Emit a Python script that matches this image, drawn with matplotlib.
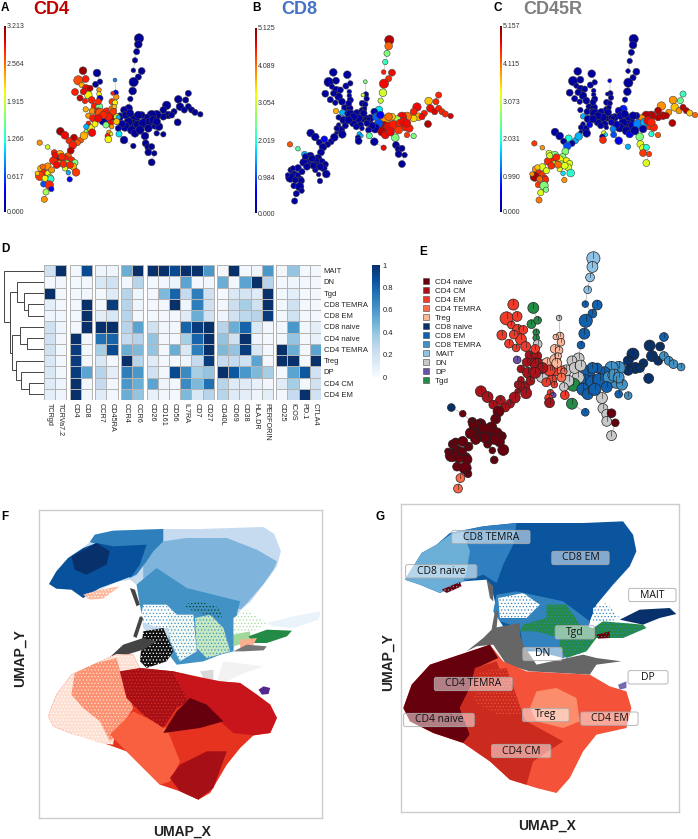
import numpy as np
import matplotlib
matplotlib.use('Agg')
import matplotlib.pyplot as plt
from matplotlib.patches import Circle, FancyBboxPatch
from matplotlib.lines import Line2D
from matplotlib.cm import ScalarMappable
from matplotlib.colors import Normalize

plt.rcParams['font.family'] = ['Liberation Sans', 'DejaVu Sans']
plt.rcParams['hatch.linewidth'] = 0.5

W, H = 698, 839

cell_types = ['CD4 naive', 'CD4 CM', 'CD4 EM', 'CD4 TEMRA', 'Treg', 'CD8 naive', 'CD8 EM',
              'CD8 TEMRA', 'MAIT', 'DN', 'DP', 'Tgd']
type_colors = ['#67000d', '#a8121a', '#ee3b2b', '#fb6a4a', '#fcb79c', '#08306b', '#1060ae',
               '#4292c6', '#8fc3e6', '#c8c8c8', '#6a51a3', '#238b45']

# tree nodes, one line per branch: top, right, centre, upper left, lower left, then the packed ones
node_x = [417, 415, 410, 405, 400, 425, 415, 401, 398, 391, 386,
          565, 557, 535, 500, 522, 540, 553, 565, 575, 585, 601, 533, 505, 490, 470, 455, 440, 465, 477, 490, 470, 435, 437, 445, 455, 463, 445, 455,
          405, 400, 415, 430, 385, 375, 395, 405, 372, 400, 372, 360, 365, 355, 378, 425,
          249, 235, 257, 291, 287, 300, 245, 258, 270, 225, 265, 297, 297, 300, 240, 255, 283, 257, 298, 277, 295, 265, 280, 301, 320, 310, 330, 340, 350, 355, 272, 285, 265, 259, 276, 258, 330, 318, 335, 327, 333, 323, 325, 357, 345, 347, 349, 336, 345, 338, 337, 343,
          181, 195, 222, 207, 242, 252, 232, 218, 212, 203, 215, 119, 143, 163, 180, 167, 193, 175, 160, 178, 200, 225, 220, 195, 228, 205, 209, 122, 143, 132, 120, 112, 143, 150, 152, 131, 148, 154, 138, 133,
          420, 450, 445, 460, 415, 390, 340, 325, 310, 295, 350, 185, 190, 170, 210, 155, 135, 128, 165, 275, 295, 250, 515, 490, 470]
node_y = [115, 133, 155, 181, 211, 213, 231, 246, 273, 297, 325,
          280, 300, 298, 316, 335, 320, 330, 320, 330, 337, 343, 367, 345, 350, 345, 345, 355, 375, 380, 403, 400, 408, 430, 442, 440, 460, 457, 487,
          355, 375, 375, 370, 365, 380, 390, 400, 420, 438, 330, 350, 372, 385, 345, 345,
          212, 241, 237, 219, 253, 245, 255, 264, 265, 276, 285, 270, 282, 295, 294, 303, 318, 328, 320, 333, 335, 347, 355, 340, 335, 363, 350, 350, 350, 352, 385, 372, 370, 380, 398, 394, 370, 375, 380, 397, 402, 408, 418, 402, 240, 278, 291, 305, 308, 280, 328, 320,
          394, 406, 413, 422, 420, 407, 428, 436, 452, 470, 481, 428, 441, 458, 463, 478, 478, 480, 482, 490, 493, 488, 500, 505, 517, 518, 538, 505, 499, 518, 528, 520, 520, 532, 537, 552, 555, 567, 576, 598,
          390, 365, 385, 360, 345, 340, 335, 350, 345, 355, 365, 470, 492, 495, 495, 510, 535, 500, 465, 300, 305, 275, 345, 330, 365]
node_r = [12, 10, 8, 7, 6, 9, 8, 12, 10, 7, 10,
          8, 8, 10, 11, 8, 10, 8, 8, 8, 8, 7, 9, 10, 9, 12, 12, 11, 11, 10, 7, 7, 10, 9, 9, 8, 7, 9, 9,
          13, 14, 12, 12, 11, 12, 11, 10, 10, 7, 9, 10, 10, 8, 10, 9,
          10, 12, 9, 10, 8, 7, 7, 9, 8, 9, 10, 6, 6, 8, 8, 7, 8, 7, 9, 8, 10, 7, 10, 13, 10, 11, 10, 10, 8, 6, 10, 8, 6, 7, 10, 5, 9, 8, 6, 6, 5, 7, 9, 8, 5, 7, 7, 8, 7, 5, 10, 6,
          10, 10, 9, 8, 8, 10, 8, 10, 9, 10, 9, 7, 6, 8, 10, 9, 12, 8, 10, 8, 11, 8, 9, 7, 10, 6, 7, 8, 9, 9, 12, 6, 7, 8, 9, 8, 11, 7, 8, 8,
          11, 11, 10, 11, 10, 10, 9, 10, 10, 10, 8, 9, 9, 9, 9, 8, 8, 7, 8, 9, 8, 8, 8, 9, 10]
node_type = [8, 8, 8, 8, 6, 6, 6, 6, 6, 6, 9,
             6, 5, 5, 5, 5, 5, 5, 7, 7, 7, 7, 5, 5, 5, 7, 7, 6, 7, 7, 7, 6, 9, 9, 9, 0, 0, 9, 9,
             6, 6, 6, 6, 9, 11, 6, 6, 11, 6, 9, 9, 9, 9, 9, 6,
             2, 2, 2, 11, 11, 11, 2, 2, 2, 2, 2, 11, 11, 9, 2, 2, 1, 10, 1, 1, 1, 1, 1, 1, 4, 9, 2, 2, 3, 3, 1, 1, 1, 1, 1, 1, 2, 2, 2, 2, 10, 2, 1, 2, 9, 4, 4, 4, 4, 4, 4, 4,
             1, 1, 1, 1, 1, 1, 1, 0, 0, 0, 0, 5, 0, 0, 0, 0, 0, 0, 0, 0, 0, 0, 0, 0, 0, 0, 0, 0, 0, 0, 0, 0, 0, 0, 0, 0, 0, 0, 3, 3,
             6, 7, 6, 7, 6, 9, 4, 2, 1, 1, 3, 0, 0, 0, 0, 0, 0, 0, 0, 2, 2, 2, 5, 5, 7]

# expression per node as a share of the colour bar range
cd4_level = [.02, .02, .02, .02, .02, .02, .02, .02, .02, .02, .03,
             .02, .02, .02, .02, .02, .02, .02, .02, .02, .02, .02, .02, .02, .02, .02, .02, .02, .02, .02, .02, .02, .02, .02, .02, .02, .02, .02, .02,
             .02, .02, .02, .02, .02, .02, .02, .02, .02, .02, .03, .03, .03, .03, .03, .02,
             .98, .83, .88, .02, .02, .03, .72, .9, .95, .88, .65, .75, .65, .05, .93, .88, .88, .72, .48, .75, .87, .75, .88, .82, .88, .02, .85, .95, .6, .3, .65, .65, .88, .3, .9, .55, .9, .5, .75, .75, .62, .88, .65, .35, .25, .12, .75, .85, .65, .88, .8, .7,
             .97, .9, .95, .87, .82, .72, .82, .88, .95, .82, .87, .75, .6, .87, .72, .72, .88, .95, .87, .75, .55, .5, .72, .62, .85, .3, .12, .72, .75, .87, .85, .7, .62, .6, .4, .2, .87, .1, .55, .75,
             .02, .02, .02, .02, .02, .03, .85, .88, .87, .9, .7, .87, .87, .9, .87, .75, .65, .8, .9, .88, .87, .9, .02, .02, .02]
cd8_level = [.95, .8, .5, .42, .88, .9, .87, .9, .6, .58, .35,
             .87, .87, .7, .9, .88, .9, .92, .88, .87, .87, .92, .95, .73, .68, .78, .9, .55, .88, .88, .5, .85, .5, .02, .02, .02, .02, .02, .02,
             .75, .95, .9, .88, .2, .03, .95, .9, .03, .9, .03, .03, .03, .03, .22, .7,
             .03, .03, .03, .03, .03, .03, .03, .03, .03, .03, .03, .03, .03, .03, .03, .03, .03, .72, .03, .3, .03, .03, .03, .03, .03, .03, .03, .03, .03, .03, .03, .03, .03, .03, .03, .03, .03, .03, .03, .3, .3, .03, .03, .45, .5, .03, .03, .03, .03, .6, .03, .03,
             .03, .03, .13, .03, .03, .03, .03, .03, .03, .03, .03, .82, .45, .3, .03, .03, .03, .03, .03, .03, .03, .03, .03, .03, .03, .03, .03, .03, .03, .03, .03, .03, .03, .03, .03, .03, .03, .03, .03, .03,
             .9, .88, .85, .9, .8, .1, .03, .03, .03, .03, .03, .03, .03, .03, .03, .03, .03, .03, .03, .03, .03, .03, .9, .88, .9]
cd45_level = [.02, .03, .03, .03, .03, .03, .03, .03, .03, .05, .15,
              .42, .48, .75, .75, .75, .7, .75, .95, .95, .7, .8, .95, .95, .95, .95, .95, .75, .85, .87, .82, .4, .5, .62, .62, .4, .85, .85, .62,
              .03, .03, .05, .25, .03, .03, .03, .1, .1, .3, .05, .03, .05, .25, .05, .05,
              .03, .03, .03, .03, .03, .03, .03, .03, .03, .03, .03, .03, .03, .03, .03, .03, .03, .03, .03, .03, .03, .3, .03, .03, .03, .03, .03, .03, .03, .03, .03, .1, .03, .03, .03, .03, .03, .03, .03, .62, .35, .03, .87, .2, .1, .03, .03, .03, .03, .03, .03, .03,
              .03, .04, .38, .03, .3, .3, .03, .2, .5, .5, .65, .85, .75, .62, .5, .82, .65, .87, .87, .62, .5, .62, .62, .62, .4, .35, .75, .75, .62, .87, .97, .75, .85, .87, .87, .85, .5, .5, .62, .78,
              .03, .3, .03, .9, .03, .03, .03, .03, .03, .03, .05, .87, .8, .87, .62, .62, .8, .7, .6, .03, .03, .03, .95, .95, .87]

cd4_ticks = [0.000, 0.617, 1.266, 1.915, 2.564, 3.213]
cd8_ticks = [0.000, 0.984, 2.019, 3.054, 4.089, 5.125]
cd45_ticks = [0.000, 0.990, 2.031, 3.073, 4.115, 5.157]

# heatmap
heat_rows = ['MAIT', 'DN', 'Tgd', 'CD8 TEMRA', 'CD8 EM', 'CD8 naive', 'CD4 naive', 'CD4 TEMRA',
             'Treg', 'DP', 'CD4 CM', 'CD4 EM']
heat_cols = ['TCRgd', 'TCRVa7.2', 'CD4', 'CD8', 'CCR7', 'CD45RA', 'CCR4', 'CCR6', 'CD26', 'CD161',
             'CD56', 'IL7RA', 'CD7', 'CD27', 'CD40L', 'CD69', 'CD38', 'HLA.DR', 'PERFORIN', 'CD25',
             'ICOS', 'PD.1', 'CTLA4']
heat_group_sizes = [2, 2, 2, 2, 6, 5, 4]
heat_mait = [.2, 1, .03, .9, .05, .05, .5, 1, 1, 1, .9, 1, 1, .6, .03, 1, .02, .05, .6, .03, .4, .02, .03]
heat_dn = [.02, .03, .02, .03, .15, .2, .03, .3, .03, .03, .06, .55, .02, .03, .5, .03, .55, 1, .3, .03, .05, .03, .03]
heat_tgd = [1, .03, .02, .03, .03, .12, .3, .05, .03, .45, .8, .25, .7, .2, .02, .15, .18, .12, 1, .03, .1, .02, .02]
heat_cd8_temra = [.1, .03, .03, 1, .02, .95, .3, .05, .02, .03, 1, .05, .7, .2, .03, .22, .35, .2, 1, .03, .2, .02, .02]
heat_cd8_em = [.05, .03, .02, 1, .1, .15, .3, .02, .02, .02, .02, .12, .5, .2, .05, .2, .28, .3, .95, .03, .2, .02, .02]
heat_cd8_naive = [.2, .05, .03, 1, 1, 1, .3, .55, .2, .04, .03, .8, .95, 1, .3, .5, .8, .15, .03, .03, .6, .03, .1]
heat_cd4_naive = [.2, .03, 1, .03, .75, .8, .25, .3, .4, .03, .03, .35, .8, 1, .4, .2, 1, .05, .02, .03, .4, .02, .08]
heat_cd4_temra = [.2, .03, .95, .03, .35, .9, .5, .45, .4, .03, .5, .15, .7, 1, .45, .4, .95, .15, .03, 1, .5, .03, .55]
heat_treg = [.15, .03, .95, .03, .15, .02, 1, .3, .12, .03, .02, .05, .25, .95, .25, .25, .2, .55, .03, 1, 1, .02, 1]
heat_dp = [.15, .03, .95, .55, .3, .1, .7, .6, .2, .03, .9, .65, .35, .4, 1, .85, .6, .45, .35, .02, .55, .85, .2]
heat_cd4_cm = [.12, .05, 1, .03, .25, .03, .6, .5, .55, .05, .03, .65, .45, .75, .3, .12, .12, .08, .03, .12, .35, .03, .2]
heat_cd4_em = [.1, .05, 1, .03, .12, .03, .5, .4, .08, .03, .03, .45, .15, .3, .3, .12, .1, .05, .1, .03, .25, 1, .2]
heat_ticks = [0, .2, .4, .6, .8, 1]

# dendrogram merges: two children (row number, or 12+merge number) and height
dend_a = [3, 2, 1, 6, 5, 10, 9, 8, 16, 14, 0]
dend_b = [4, 12, 13, 7, 15, 11, 17, 18, 19, 20, 21]
dend_h = [47, 60, 80, 52, 72, 44, 67, 82, 95, 102, 119]

# UMAP F regions, painted in this order
f_upper_base = [(148, 268), (170, 230), (205, 190), (250, 160), (270, 142), (285, 120), (340, 108), (490, 103), (600, 103), (790, 97), (822, 118), (842, 170), (830, 215), (790, 270), (750, 322), (722, 345), (705, 380), (700, 470), (660, 480), (610, 500), (530, 510), (500, 470), (430, 400), (420, 330), (410, 270), (390, 255), (350, 262), (300, 285), (250, 310), (215, 285), (170, 282)]
f_mid_band = [(490, 140), (560, 130), (680, 130), (770, 165), (830, 200), (820, 225), (790, 268), (745, 320), (722, 345), (690, 330), (560, 280), (430, 260), (430, 190)]
f_low_blue = [(410, 270), (470, 220), (560, 280), (720, 320), (705, 380), (700, 470), (660, 480), (610, 500), (530, 510), (500, 470), (510, 400), (430, 380), (420, 330)]
f_top_blue = [(270, 142), (285, 120), (340, 108), (490, 103), (490, 140), (460, 170), (440, 200), (410, 240), (390, 250), (330, 160)]
f_dark_blue = [(148, 268), (170, 230), (205, 190), (250, 160), (290, 145), (340, 155), (440, 150), (420, 210), (395, 245), (350, 262), (300, 280), (250, 310), (215, 285), (170, 282)]
f_navy = [(215, 185), (290, 145), (330, 170), (320, 210), (260, 240), (225, 225)]
f_salmon_bit = [(250, 300), (300, 285), (360, 275), (310, 312), (270, 315)]
f_hole_left = [(430, 330), (500, 330), (540, 370), (520, 400), (480, 400), (420, 380)]
f_hole_mid = [(500, 360), (580, 360), (590, 470), (540, 500), (510, 440)]
f_hole_right = [(700, 370), (740, 345), (800, 385), (760, 410), (700, 420)]
f_pale_green = [(585, 370), (630, 360), (670, 400), (690, 470), (620, 490), (590, 460)]
f_dark_green = [(545, 330), (600, 320), (660, 340), (665, 370), (620, 360), (580, 350)]
f_black = [(430, 410), (490, 400), (520, 470), (500, 500), (440, 520), (420, 500), (425, 450)]
f_grey_strand = [(320, 497), (370, 450), (430, 430), (470, 440), (430, 465), (380, 480), (340, 500)]
f_strand_up = [(390, 280), (405, 285), (420, 330), (410, 335)]
f_strand_mid = [(420, 365), (430, 370), (410, 430), (400, 425)]
f_tail_pale = [(800, 385), (880, 365), (960, 350), (955, 375), (880, 400), (820, 395)]
f_tail_lgreen = [(700, 420), (750, 410), (750, 440), (700, 455)]
f_tail_green = [(745, 425), (800, 405), (875, 408), (860, 425), (800, 445), (760, 445)]
f_tail_salmon = [(720, 435), (770, 430), (760, 450), (720, 465)]
f_tail_grey = [(700, 470), (740, 450), (800, 455), (790, 467), (730, 470)]
f_pale_grey = [(670, 500), (790, 515), (720, 540), (680, 560), (650, 560)]
f_grey_patch = [(600, 530), (640, 525), (640, 560), (610, 550)]
f_lobe_base = [(145, 665), (170, 600), (215, 540), (290, 505), (350, 478), (400, 480), (420, 520), (520, 530), (660, 560), (720, 565), (770, 600), (810, 630), (830, 670), (810, 715), (760, 722), (720, 760), (680, 810), (630, 895), (595, 915), (540, 890), (480, 870), (430, 820), (380, 770), (310, 745), (210, 715), (160, 695)]
f_lobe_pale = [(145, 665), (170, 600), (215, 540), (290, 505), (350, 478), (400, 480), (420, 520), (360, 560), (340, 750), (300, 745), (210, 715), (160, 695)]
f_lobe_salmon = [(225, 535), (290, 505), (350, 490), (370, 560), (400, 640), (350, 720), (330, 740), (300, 680), (250, 640), (215, 600)]
f_lobe_orange = [(330, 720), (400, 650), (500, 700), (540, 800), (510, 860), (480, 870), (430, 820), (380, 770)]
f_lobe_top = [(360, 530), (420, 520), (520, 530), (660, 565), (600, 600), (530, 640), (490, 700), (430, 660), (380, 610)]
f_lobe_right = [(520, 535), (660, 560), (720, 565), (770, 600), (810, 630), (830, 670), (810, 715), (760, 722), (700, 715), (660, 680), (560, 610)]
f_lobe_darkest = [(490, 715), (530, 650), (570, 610), (620, 630), (670, 680), (600, 700)]
f_lobe_bottom = [(510, 850), (540, 810), (620, 770), (680, 770), (640, 880), (595, 915), (540, 890)]
f_dp = [(775, 585), (790, 575), (810, 580), (805, 598), (785, 600)]

# UMAP G regions
g_upper_base = [(165, 255), (190, 215), (215, 175), (260, 150), (300, 115), (400, 95), (500, 85), (700, 85), (820, 80), (850, 120), (860, 170), (840, 215), (790, 270), (740, 330), (720, 380), (700, 470), (510, 470), (450, 380), (430, 300), (410, 255), (340, 260), (300, 280), (270, 295), (210, 270)]
g_temra = [(300, 115), (400, 95), (500, 85), (490, 150), (460, 210), (440, 265), (400, 240), (340, 260), (330, 200)]
g_naive = [(165, 255), (190, 215), (215, 175), (260, 150), (300, 120), (340, 110), (360, 170), (350, 230), (340, 260), (300, 280), (270, 295), (210, 270)]
g_cd4_specks = [(275, 285), (330, 262), (335, 275), (290, 295)]
g_mid_blue = [(440, 300), (500, 290), (640, 320), (720, 380), (700, 470), (640, 490), (520, 460), (510, 400), (450, 380), (430, 350)]
g_hole_left = [(445, 310), (520, 295), (570, 330), (530, 370), (450, 370)]
g_hole_right = [(730, 340), (770, 325), (810, 370), (760, 390), (730, 380)]
g_tgd = [(520, 390), (590, 370), (590, 330), (650, 330), (690, 390), (730, 400), (760, 380), (880, 390), (890, 400), (820, 430), (740, 430), (710, 470), (650, 490), (630, 460), (630, 430), (560, 410), (510, 410)]
g_dn = [(350, 470), (400, 430), (430, 400), (510, 385), (510, 420), (520, 450), (560, 510), (700, 480), (740, 490), (815, 500), (740, 510), (720, 540), (540, 530), (470, 510), (430, 450), (380, 455)]
g_dn_up = [(410, 255), (430, 275), (430, 320), (420, 310)]
g_dn_mid = [(435, 350), (445, 350), (440, 400), (425, 405)]
g_mait = [(810, 375), (870, 345), (960, 340), (980, 358), (930, 370), (880, 390)]
g_red_bit = [(740, 420), (780, 410), (780, 430), (745, 432)]
g_lobe_em = [(160, 640), (185, 570), (240, 510), (330, 480), (420, 450), (460, 500), (530, 530), (720, 540), (780, 575), (830, 590), (845, 640), (830, 700), (740, 720), (700, 770), (660, 850), (620, 895), (560, 880), (480, 855), (420, 800), (340, 745), (250, 715), (180, 680)]
g_lobe_naive = [(160, 640), (185, 570), (240, 510), (330, 480), (420, 450), (445, 490), (380, 520), (360, 580), (330, 640), (360, 720), (340, 745), (250, 715), (180, 680)]
g_lobe_cm = [(375, 520), (440, 500), (480, 600), (530, 680), (640, 740), (550, 800), (530, 870), (480, 855), (420, 800), (340, 745), (360, 720), (330, 640), (360, 580)]
g_lobe_mix = [(390, 530), (470, 520), (520, 660), (440, 660), (370, 620)]
g_lobe_treg = [(560, 590), (620, 580), (680, 610), (690, 680), (640, 700), (560, 680), (540, 640)]
g_dp = [(805, 570), (830, 560), (830, 580), (810, 585)]

g_labels = ['CD8 TEMRA', 'CD8 EM', 'CD8 naive', 'MAIT', 'Tgd', 'DN', 'DP', 'CD4 TEMRA', 'Treg', 'CD4 EM', 'CD4 naive', 'CD4 CM']
g_label_x = [423, 692, 274, 908, 675, 578, 895, 370, 588, 779, 267, 514]
g_label_y = [127, 190, 230, 301, 413, 478, 548, 568, 661, 672, 676, 769]
g_label_w = [235, 172, 214, 142, 118, 118, 120, 234, 140, 172, 212, 178]

node_scale = 1.15


def px_axes(fig, x0, y0, x1, y1, **kw):
    return fig.add_axes([x0 / W, 1 - y1 / H, (x1 - x0) / W, (y1 - y0) / H], **kw)


def tree_axes(fig, gx, gy, s):
    u0, u1, v0, v1 = 90, 630, 90, 625
    ax = px_axes(fig, gx + u0 * s, gy + v0 * s, gx + u1 * s, gy + v1 * s)
    ax.set_xlim(u0, u1)
    ax.set_ylim(v1, v0)
    ax.axis('off')
    return ax


def tree_edges(ax, color):
    # spanning tree over the node positions
    pts = np.column_stack([node_x, node_y]).astype(float)
    done = [0]
    rest = list(range(1, len(pts)))
    while rest:
        d = np.linalg.norm(pts[rest][:, None] - pts[done][None], axis=2)
        i, j = np.unravel_index(d.argmin(), d.shape)
        ax.plot([pts[rest[i]][0], pts[done[j]][0]], [pts[rest[i]][1], pts[done[j]][1]],
                color=color, lw=0.6, zorder=1)
        done.append(rest.pop(i))


def tree_panel(fig, gx, gy, levels, ticks, bar):
    ax = tree_axes(fig, gx, gy, 1 / 3)
    tree_edges(ax, '#cccccc')
    cmap = plt.get_cmap('jet')
    for x, y, r, v in zip(node_x, node_y, node_r, levels):
        ax.add_patch(Circle((x, y), r * node_scale, fc=cmap(v), ec='#444444', lw=0.4, zorder=2))
    cax = px_axes(fig, *bar)
    sm = ScalarMappable(Normalize(ticks[0], ticks[-1]), cmap='jet')
    cb = fig.colorbar(sm, cax=cax)
    cb.set_ticks(ticks, labels=['%.3f' % t for t in ticks])
    cb.ax.tick_params(length=0, pad=0.5, labelsize=5, labelcolor='#333333')
    cb.outline.set_visible(False)


def paint(ax, layers):
    for poly, color, speck in layers:
        xs, ys = zip(*poly)
        if speck:
            ax.fill(xs, ys, facecolor=color, edgecolor=speck, hatch='.....', lw=0)
        else:
            ax.fill(xs, ys, color=color, lw=0)


def umap_axes(fig, box, xlim, ylim):
    ax = px_axes(fig, *box)
    ax.set_xlim(*xlim)
    ax.set_ylim(*ylim)
    ax.set_xticks([])
    ax.set_yticks([])
    for s in ax.spines.values():
        s.set_color('#cccccc')
        s.set_linewidth(1)
    return ax


fig = plt.figure(figsize=(W / 100, H / 100), dpi=100)

# panel letters and titles
for letter, x, y in [('A', 1, 8), ('B', 252, 8), ('C', 493, 8), ('D', 1, 249), ('E', 419, 252), ('F', 1, 517), ('G', 375, 517)]:
    fig.text(x / W, 1 - y / H, letter, fontsize=8.5, fontweight='bold', va='center')
for title, x, color in [('CD4', 33, '#c00000'), ('CD8', 281, '#4472c4'), ('CD45R', 523, '#7f7f7f')]:
    fig.text(x / W, 1 - 10 / H, title, fontsize=13, fontweight='bold', color=color, va='center')

tree_panel(fig, 0, 0, cd4_level, cd4_ticks, (4, 26, 6, 212))
tree_panel(fig, 250.3, 1.7, cd8_level, cd8_ticks, (255, 28, 257, 213))
tree_panel(fig, 494.7, 0.7, cd45_level, cd45_ticks, (500, 26, 502, 212))

# D heatmap
heat_values = np.array([heat_mait, heat_dn, heat_tgd, heat_cd8_temra, heat_cd8_em, heat_cd8_naive,
                        heat_cd4_naive, heat_cd4_temra, heat_treg, heat_dp, heat_cd4_cm, heat_cd4_em])
gap = 0.29
ax = px_axes(fig, 44, 265, 321, 400)
ax.set_xlim(0, len(heat_cols) + gap * (len(heat_group_sizes) - 1))
ax.set_ylim(len(heat_rows), 0)
start, centers = 0, []
for g, n in enumerate(heat_group_sizes):
    edges = np.arange(n + 1) + start + g * gap
    ax.pcolormesh(edges, np.arange(len(heat_rows) + 1), heat_values[:, start:start + n], cmap='Blues',
                  vmin=0, vmax=1, edgecolors='#b4b4b4', linewidth=0.6)
    centers.extend(edges[:-1] + 0.5)
    start += n
ax.set_xticks(centers, heat_cols, rotation=270, fontsize=5.2, color='#222222')
ax.set_yticks(np.arange(len(heat_rows)) + 0.5, heat_rows, fontsize=5.5, color='#222222')
ax.yaxis.tick_right()
ax.tick_params(length=0, pad=2)
for s in ax.spines.values():
    s.set_visible(False)

cax = px_axes(fig, 372, 265, 380, 377)
cb = fig.colorbar(ScalarMappable(Normalize(0, 1), cmap='Blues'), cax=cax)
cb.set_ticks(heat_ticks, labels=['0', '0.2', '0.4', '0.6', '0.8', '1'])
cb.ax.tick_params(length=0, pad=2, labelsize=5.5, labelcolor='#222222')
cb.outline.set_visible(False)

# dendrogram
ax = px_axes(fig, 4, 265, 44, 400)
ax.set_xlim(119, 0)
ax.set_ylim(len(heat_rows), 0)
ax.axis('off')
pos = {i: (i + 0.5, 0) for i in range(len(heat_rows))}
for k, (a, b, h) in enumerate(zip(dend_a, dend_b, dend_h)):
    ya, ha = pos[a]
    yb, hb = pos[b]
    ax.plot([ha, h, h, hb], [ya, ya, yb, yb], color='#444444', lw=0.7, solid_joinstyle='miter')
    pos[12 + k] = ((ya + yb) / 2, h)

# E pie tree
ax = tree_axes(fig, 394.6, 203.5, 0.4767)
tree_edges(ax, '#bbbbbb')
for x, y, r, t in zip(node_x, node_y, node_r, node_type):
    ax.add_patch(Circle((x, y), r * node_scale, fc=type_colors[t], ec='#222222', lw=0.5, zorder=2))
    ax.plot([x, x], [y, y - r * node_scale], color='#222222', lw=0.4, zorder=3)
handles = [Line2D([], [], ls='', marker='s', ms=4.6, mfc=c, mec='#444444', mew=0.4) for c in type_colors]
fig.legend(handles, cell_types, loc='upper left', bbox_to_anchor=(414 / W, 1 - 274.5 / H), frameon=False,
           fontsize=5.8, labelspacing=0.17, handletextpad=0.1, borderpad=0, labelcolor='#222222')

# F
ax = umap_axes(fig, (39, 510, 322, 818), (118, 965), (970, 46))
paint(ax, [(f_upper_base, '#c6dbef', None), (f_mid_band, '#7fb5dc', None), (f_low_blue, '#4292c6', None),
           (f_top_blue, '#2f7fbc', None), (f_dark_blue, '#08519c', None), (f_navy, '#08306b', None),
           (f_salmon_bit, '#fcbba1', '#ffffff'), (f_hole_left, '#ffffff', '#4292c6'), (f_hole_mid, '#f2f8f2', '#4292c6'),
           (f_hole_right, '#ffffff', '#a1d99b'), (f_pale_green, '#c7e9c0', '#4292c6'), (f_dark_green, '#4292c6', '#00441b'),
           (f_black, '#111111', '#ffffff'), (f_grey_strand, '#444444', None), (f_strand_up, '#444444', None),
           (f_strand_mid, '#444444', None), (f_tail_pale, '#eaf2fa', None), (f_tail_lgreen, '#a1d99b', None),
           (f_tail_green, '#238b45', None), (f_tail_salmon, '#fcae91', None), (f_tail_grey, '#777777', None),
           (f_pale_grey, '#f2f2f2', None), (f_grey_patch, '#d9d9d9', None),
           (f_lobe_base, '#e6331f', None), (f_lobe_pale, '#fee0d2', '#ffffff'), (f_lobe_salmon, '#fc9272', '#fee0d2'),
           (f_lobe_orange, '#f8603f', None), (f_lobe_top, '#a50f15', '#de2d26'), (f_lobe_right, '#c8151b', None),
           (f_lobe_darkest, '#67000d', None), (f_lobe_bottom, '#a50f15', None), (f_dp, '#54278f', None)])

# G
ax = umap_axes(fig, (401, 504, 679, 812), (153, 988), (952, 28))
paint(ax, [(g_upper_base, '#0b559f', None), (g_temra, '#2f7fc1', None), (g_naive, '#6baed6', None), (g_cd4_specks, '#67000d', '#6baed6'),
           (g_mid_blue, '#3182bd', None), (g_hole_left, '#ffffff', '#3182bd'), (g_hole_right, '#ffffff', '#3182bd'),
           (g_tgd, '#238b45', '#3182bd'), (g_dn, '#666666', None), (g_dn_up, '#666666', None), (g_dn_mid, '#666666', None),
           (g_mait, '#08306b', None), (g_red_bit, '#67000d', '#238b45'),
           (g_lobe_em, '#f4533a', None), (g_lobe_naive, '#67000d', None), (g_lobe_cm, '#cb2a1e', None),
           (g_lobe_mix, '#cb2a1e', '#f4533a'), (g_lobe_treg, '#fc8d6c', None), (g_dp, '#756bb1', None)])
for name, x, y, w in zip(g_labels, g_label_x, g_label_y, g_label_w):
    ax.add_patch(FancyBboxPatch((x - w / 2 + 4, y - 16), w - 8, 32, boxstyle='round,pad=4,rounding_size=6',
                                fc=(1, 1, 1, 0.5), ec='#aaaaaa', lw=0.6, zorder=5))
    ax.text(x, y, name, ha='center', va='center', fontsize=7.5, family=['Open Sans', 'DejaVu Sans'], color='#111111', zorder=6)

for text, x, y, rot in [('UMAP_X', 182, 832, 0), ('UMAP_Y', 20, 658, 90), ('UMAP_X', 547, 826, 0), ('UMAP_Y', 388, 662, 90)]:
    fig.text(x / W, 1 - y / H, text, fontsize=10, fontweight='bold', ha='center', va='center', rotation=rot, color='#222222')

fig.savefig('out.png', dpi=100)
